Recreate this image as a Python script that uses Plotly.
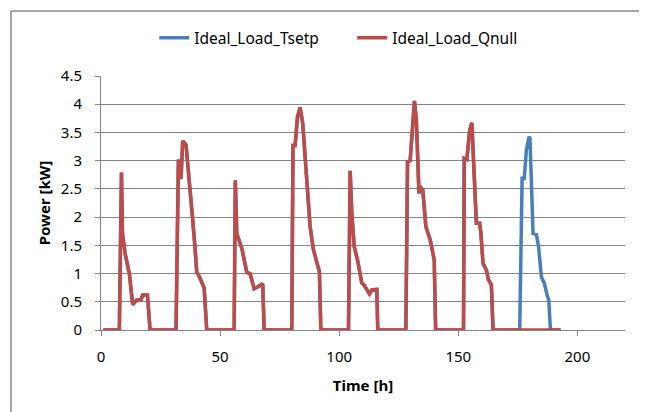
import plotly.graph_objects as go

# red series (Ideal_Load_Qnull) breakpoints
t_qnull = [1, 7.7, 8.6, 9.0, 10.1, 11.9, 13.3, 15.0, 16.8, 17.5, 19.5, 20.6,
           31.5, 32.5, 33.6, 34.3, 35.7, 37.1, 38.4, 39.4, 40.2, 41.2, 43.3, 44.4,
           55.9, 56.4, 57.0, 59.1, 61.2, 62.6, 64.3, 66.1, 67.9, 68.5,
           80.1, 80.6, 81.5, 82.5, 83.6, 84.7, 86.1, 87.8, 89.2, 91.7, 92.3,
           103.9, 104.6, 105.3, 106.3, 107.7, 109.5, 110.4, 112.7, 113.7, 115.8, 116.2,
           128.0, 128.7, 129.8, 131.0, 131.6, 132.4, 133.5, 134.0, 135.1, 136.4, 138.2, 139.9, 140.5,
           152.2, 152.5, 153.6, 154.8, 155.7, 156.4, 157.6, 159.0, 159.5, 160.4, 161.8, 162.7, 163.9, 164.6,
           193]
p_qnull = [0, 0, 2.79, 1.72, 1.36, 1.0, 0.45, 0.53, 0.53, 0.62, 0.62, 0,
           0, 3.02, 2.68, 3.35, 3.28, 2.52, 2.0, 1.5, 1.03, 0.95, 0.75, 0,
           0, 2.65, 1.71, 1.45, 1.02, 1.0, 0.73, 0.77, 0.82, 0,
           0, 3.27, 3.27, 3.78, 3.94, 3.66, 2.78, 1.83, 1.42, 1.03, 0,
           0, 2.82, 2.07, 1.48, 1.24, 0.83, 0.8, 0.64, 0.71, 0.72, 0,
           0, 2.98, 3.0, 3.66, 4.06, 3.72, 2.42, 2.54, 2.48, 1.83, 1.6, 1.24, 0,
           0, 3.04, 3.02, 3.54, 3.67, 2.9, 1.89, 1.89, 1.71, 1.18, 1.06, 0.89, 0.8, 0,
           0]

# blue series (Ideal_Load_Tsetp): same as red until the last day, then its own peak
t_tsetp_tail = [175.8, 176.8, 177.7, 178.6, 179.7, 180.1, 181.4, 182.8, 183.7, 184.9,
                186.1, 187.3, 188.0, 188.7, 193]
p_tsetp_tail = [0, 2.69, 2.69, 3.19, 3.42, 3.4, 1.71, 1.69, 1.48, 0.94,
                0.83, 0.62, 0.53, 0, 0]

n_head = t_qnull.index(164.6) + 1
t_tsetp = t_qnull[:n_head] + t_tsetp_tail
p_tsetp = p_qnull[:n_head] + p_tsetp_tail

fig = go.Figure()
fig.add_trace(go.Scatter(x=t_tsetp, y=p_tsetp, mode="lines", name="Ideal_Load_Tsetp",
                         line=dict(color="#4A7EBB", width=3.5)))
fig.add_trace(go.Scatter(x=t_qnull, y=p_qnull, mode="lines", name="Ideal_Load_Qnull",
                         line=dict(color="#BE4B48", width=3.5)))

font = "Noto Sans, Liberation Sans, sans-serif"
# page body has an 8px margin, so margins are 8px smaller than the target pixels
fig.update_layout(
    width=647, height=412,
    margin=dict(l=93, r=30, t=68, b=90, autoexpand=False),
    paper_bgcolor="white", plot_bgcolor="white",
    font=dict(family=font, size=15, color="#000"),
    showlegend=True,
    legend=dict(orientation="h", xref="container", yref="container",
                x=0.532, xanchor="center", y=0.927, yanchor="middle",
                font=dict(size=15.5), itemwidth=30, entrywidth=153, entrywidthmode="pixels",
                bgcolor="rgba(0,0,0,0)"),
    xaxis=dict(range=[0, 220], dtick=50, tick0=0, showgrid=False, zeroline=False,
               showline=True, linecolor="#868686", linewidth=1,
               ticks="outside", ticklen=5, tickcolor="#868686", ticklabelstandoff=8,
               automargin=False,
               title=dict(text="<b>Time [h]</b>", font=dict(size=15), standoff=15)),
    yaxis=dict(range=[0, 4.5], dtick=0.5, tick0=0, showgrid=True, gridcolor="#868686",
               gridwidth=1, zeroline=False, showline=True, linecolor="#868686",
               ticks="outside", ticklen=5, tickcolor="#868686", ticklabelstandoff=10,
               automargin=False,
               title=dict(text="<b>Power [kW]</b>", font=dict(size=15), standoff=6)),
    shapes=[
        dict(type="line", xref="paper", yref="paper", x0=-0.1718, x1=-0.1718,
             y0=-0.4, y1=1.256, line=dict(color="#888888", width=1.5)),
        dict(type="line", xref="paper", yref="paper", x0=-0.1718, x1=1.1,
             y0=1.256, y1=1.256, line=dict(color="#888888", width=1.5)),
    ],
)

fig.write_html("out.html")
